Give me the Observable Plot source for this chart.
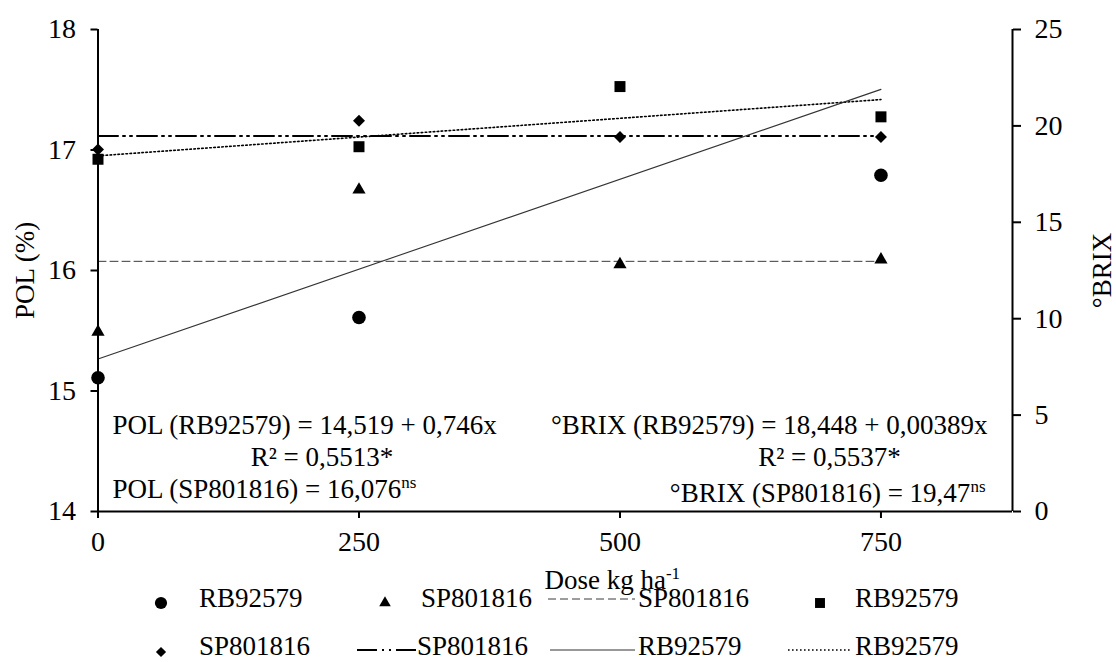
<!DOCTYPE html>
<html>
<head>
<meta charset="utf-8">
<script src="https://cdn.jsdelivr.net/npm/d3@7"></script>
<script src="https://cdn.jsdelivr.net/npm/@observablehq/plot@0.6"></script>
<style>
  html, body { margin: 0; padding: 0; background: #fff; }
  #wrap { position: relative; width: 1116px; height: 662px; overflow: hidden;
          font-family: "Liberation Serif", "Times New Roman", serif; color: #000; }
  #wrap svg.plot { position: absolute; left: 0; top: 0; }
  .lg-key { position: absolute; overflow: visible; }
  .lg-text { position: absolute; font-size: 27px; line-height: 26px; white-space: nowrap; }
</style>
</head>
<body>
<div id="wrap"></div>
<script>
// ---------------- data ----------------
const doses = [0, 250, 500, 750];
const polRB92579 = [15.11, 15.61, 18.03, 16.79];   // 500 kg value lies above the axis (hidden)
const polSP801816 = [15.49, 16.67, 16.05, 16.09];
const brixRB92579 = [18.27, 18.92, 22.04, 20.47];
const brixSP801816 = [18.77, 20.27, 19.42, 19.42];

// fitted lines (end points of each fitted line)
const trendDoses = [0, 750];
const polRBTrend = [15.265, 17.503];
const polSPMean = [16.076, 16.076];
const brixRBTrend = [18.448, 21.366];
const brixSPMean = [19.47, 19.47];

// axes
const xDomain = [0, 876];
const xTicks = [0, 250, 500, 750];
const polDomain = [14, 18];
const polTicks = [14, 15, 16, 17, 18];
const brixDomain = [0, 25];
const brixTicks = [0, 5, 10, 15, 20, 25];

// texts
const xLabel = "Dose kg ha|-1";
const yLabelLeft = "POL (%)";
const yLabelRight = "°BRIX";
const annLeft = ["POL (RB92579) = 14,519 + 0,746x", "R² = 0,5513*", "POL (SP801816) = 16,076|ns"];
const annRight = ["°BRIX (RB92579) = 18,448 + 0,00389x", "R² = 0,5537*", "°BRIX (SP801816) = 19,47|ns"];

// legend
const legendLabels = ["RB92579", "SP801816", "SP801816", "RB92579", "SP801816", "SP801816", "RB92579", "RB92579"];
const legendKeys = ["circle", "triangle", "dashed", "square", "diamond2", "dashdot", "solid", "dotted"];

// ---------------- build ----------------
const brixToPol = d3.scaleLinear(brixDomain, polDomain);

const pointRows = doses.map((dose, i) => ({
  dose,
  polRB: polRB92579[i],
  polSP: polSP801816[i],
  brixRB: brixToPol(brixRB92579[i]),
  brixSP: brixToPol(brixSP801816[i])
}));
const trendRows = trendDoses.map((dose, i) => ({
  dose,
  polRB: polRBTrend[i],
  polSP: polSPMean[i],
  brixRB: brixToPol(brixRBTrend[i]),
  brixSP: brixToPol(brixSPMean[i])
}));

const lineStyles = {
  dashed: {stroke: "#3a3a3a", strokeWidth: 1, strokeDasharray: "8,4"},
  dashdot: {stroke: "#000", strokeWidth: 2, strokeDasharray: "20,5,2,5,2,5"},
  solid: {stroke: "#333", strokeWidth: 1.1},
  dotted: {stroke: "#000", strokeWidth: 1.6, strokeDasharray: "1.6,2.4"}
};
const symbolR = {circle: 6.8, triangle: 4.9, square: 6.2, diamond2: 5.4};

const annFont = 27;
const chart = Plot.plot({
  width: 1116,
  height: 600,
  marginTop: 29,
  marginBottom: 89,
  marginLeft: 97.5,
  marginRight: 104,
  style: {fontFamily: "Liberation Serif, Times New Roman, serif", fontSize: "28px", color: "#000", background: "transparent", overflow: "visible"},
  x: {domain: xDomain},
  y: {domain: polDomain},
  marks: [
    // trend lines
    Plot.line(trendRows, {x: "dose", y: "polSP", ...lineStyles.dashed}),
    Plot.line(trendRows, {x: "dose", y: "brixSP", ...lineStyles.dashdot}),
    Plot.line(trendRows, {x: "dose", y: "brixRB", ...lineStyles.dotted}),
    Plot.line(trendRows, {x: "dose", y: "polRB", ...lineStyles.solid}),
    // points
    Plot.dot(pointRows, {x: "dose", y: "polSP", symbol: "triangle", r: symbolR.triangle, fill: "#000", stroke: "none"}),
    Plot.dot(pointRows, {x: "dose", y: "brixRB", symbol: "square", r: symbolR.square, fill: "#000", stroke: "none"}),
    Plot.dot(pointRows, {x: "dose", y: "brixSP", symbol: "diamond2", r: symbolR.diamond2, fill: "#000", stroke: "none"}),
    Plot.dot(pointRows, {x: "dose", y: "polRB", r: symbolR.circle, fill: "#000", stroke: "none", filter: d => d.polRB <= polDomain[1]}),
    // axes
    Plot.ruleX([xDomain[0], xDomain[1]], {stroke: "#000", strokeWidth: 2}),
    Plot.ruleY([polDomain[0]], {stroke: "#000", strokeWidth: 2}),
    Plot.axisX({ticks: xTicks, tickSize: 7, tickPadding: 13, strokeWidth: 2, label: null, tickFormat: d => String(d)}),
    Plot.axisY({ticks: polTicks, tickSize: 7, tickPadding: 15, strokeWidth: 2, label: null, tickFormat: d => String(d)}),
    Plot.axisY({anchor: "right", ticks: brixTicks.map(brixToPol), tickFormat: d => String(Math.round(brixToPol.invert(d))),
                tickSize: 8, tickPadding: 14, strokeWidth: 2, label: null}),
    // axis titles
    Plot.text([yLabelLeft], {text: d => d, frameAnchor: "left", rotate: -90, textAnchor: "middle", lineAnchor: "top", dx: -83.5, fontSize: 27, fill: "#000"}),
    Plot.text([yLabelRight], {text: d => d, frameAnchor: "right", rotate: -90, textAnchor: "middle", lineAnchor: "bottom", dx: 98.5, fontSize: 27, fill: "#000"}),
    Plot.text([xLabel], {text: d => d, frameAnchor: "bottom", textAnchor: "middle", lineAnchor: "bottom", dx: 57, dy: 77, fontSize: 27, fill: "#000"}),
    // equations
    Plot.text([annLeft[0]], {text: d => d, frameAnchor: "bottom-left", textAnchor: "start", lineAnchor: "bottom", dx: 14.5, dy: -78, fontSize: annFont, fill: "#000"}),
    Plot.text([annLeft[1]], {text: d => d, frameAnchor: "bottom-left", textAnchor: "middle", lineAnchor: "bottom", dx: 224, dy: -46, fontSize: annFont, fill: "#000"}),
    Plot.text([annLeft[2]], {text: d => d, frameAnchor: "bottom-left", textAnchor: "start", lineAnchor: "bottom", dx: 14.5, dy: -14, fontSize: annFont, fill: "#000"}),
    Plot.text([annRight[0]], {text: d => d, frameAnchor: "bottom-right", textAnchor: "end", lineAnchor: "bottom", dx: -25, dy: -78, fontSize: annFont, fill: "#000"}),
    Plot.text([annRight[1]], {text: d => d, frameAnchor: "bottom-right", textAnchor: "middle", lineAnchor: "bottom", dx: -183, dy: -46, fontSize: annFont, fill: "#000"}),
    Plot.text([annRight[2]], {text: d => d, frameAnchor: "bottom-right", textAnchor: "end", lineAnchor: "bottom", dx: -27, dy: -9.5, fontSize: annFont, fill: "#000"})
  ]
});

// superscripts (text after "|")
const SVGNS = "http://www.w3.org/2000/svg";
chart.querySelectorAll("text").forEach(t => {
  if (t.textContent.includes("|")) {
    const [a, b] = t.textContent.split("|");
    t.textContent = a;
    const ts = document.createElementNS(SVGNS, "tspan");
    ts.setAttribute("font-size", "17");
    ts.setAttribute("dy", "-10");
    ts.textContent = b;
    t.appendChild(ts);
  }
});

const wrap = document.getElementById("wrap");
wrap.appendChild(chart);

// ---------------- legend (HTML below the plot) ----------------
const legendLayout = [
  {k0: 150, k1: 172, ky: 603, tx: 199, base: 607},
  {k0: 374, k1: 396, ky: 603, tx: 421, base: 607},
  {k0: 548, k1: 635, ky: 599, tx: 638, base: 607},
  {k0: 809, k1: 831, ky: 603, tx: 855, base: 607},
  {k0: 150, k1: 172, ky: 652, tx: 199, base: 655},
  {k0: 357, k1: 417, ky: 650, tx: 417, base: 655},
  {k0: 550, k1: 635, ky: 650, tx: 638, base: 655},
  {k0: 788, k1: 850, ky: 650, tx: 855, base: 655}
];
const legendSymbolR = {circle: 6.1, triangle: 4.3, square: 5.6, diamond2: 4.6};
const symbolFns = {circle: d3.symbolCircle, triangle: d3.symbolTriangle, square: d3.symbolSquare, diamond2: d3.symbolDiamond2};

legendKeys.forEach((key, i) => {
  const L = legendLayout[i];
  const w = L.k1 - L.k0;
  const svg = d3.create("svg").attr("class", "lg-key").attr("width", w).attr("height", 20)
    .style("left", L.k0 + "px").style("top", (L.ky - 10) + "px");
  if (symbolFns[key]) {
    const r = legendSymbolR[key];
    svg.append("path").attr("transform", `translate(${w / 2},10)`)
      .attr("d", d3.symbol(symbolFns[key], Math.PI * r * r)()).attr("fill", "#000");
  } else {
    const s = lineStyles[key];
    svg.append("line").attr("x1", 0).attr("x2", w).attr("y1", 10).attr("y2", 10)
      .attr("stroke", s.stroke).attr("stroke-width", s.strokeWidth)
      .attr("stroke-dasharray", s.strokeDasharray || null);
  }
  wrap.appendChild(svg.node());
  const span = document.createElement("span");
  span.className = "lg-text";
  span.textContent = legendLabels[i];
  span.style.left = L.tx + "px";
  span.style.top = (L.base - 22) + "px";
  wrap.appendChild(span);
});
</script>
</body>
</html>
